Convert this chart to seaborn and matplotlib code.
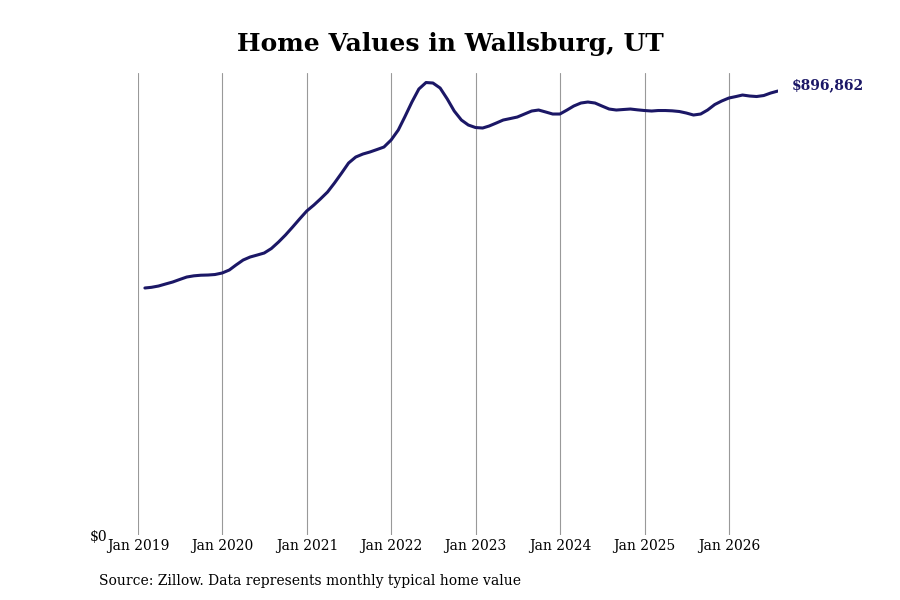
import pandas as pd
import seaborn as sns
import matplotlib
matplotlib.use("Agg")
import matplotlib.pyplot as plt
import matplotlib.dates as mdates
from matplotlib.ticker import FixedLocator, FuncFormatter

sns.set_style("white")
plt.rcParams["font.family"] = ["DejaVu Serif"]
plt.rcParams["text.color"] = "black"

# Monthly typical home value (month-end dates)
dates = pd.date_range("2019-01-31", periods=91, freq="ME")
values = [
    499000, 500350, 502980, 507020, 511060, 516110, 521160, 523580, 524800, 525200,
    526210, 529240, 535300, 545400, 555500, 561560, 565600, 569640, 578730, 591860,
    606000, 622160, 638320, 654480, 666600, 678720, 692860, 711040, 731240, 751440,
    763560, 769620, 773660, 778710, 783760, 797900, 818100, 844360, 874660, 900920,
    914050, 913040, 902940, 880720, 856480, 838300, 828200, 823150, 822140, 826180,
    832240, 838300, 841330, 844360, 850420, 856480, 858500, 854460, 850420, 850420,
    858500, 866580, 872640, 874660, 872640, 866580, 860520, 858500, 859510, 860520,
    858900, 857490, 856480, 857490, 857490, 856880, 855470, 852440, 848400, 850420,
    858500, 869610, 876680, 882740, 885770, 888800, 886780, 885770, 887790, 892840,
    896862,
]
tick_years = list(range(2019, 2027))

df = pd.DataFrame({"date": dates, "value": values})

fig = plt.figure(figsize=(9, 6), dpi=100)
ax = fig.add_axes([0.1533, 0.1083, 0.711, 0.77])

line_color = "#1b1766"
sns.lineplot(data=df, x="date", y="value", ax=ax, color=line_color, linewidth=2.2)

ax.set_xlim(pd.Timestamp("2019-01-01"), df["date"].iloc[-1])
ax.set_ylim(0, max(values) * 1.021)

ax.xaxis.set_major_locator(FixedLocator([mdates.date2num(pd.Timestamp(f"{y}-01-01")) for y in tick_years]))
ax.xaxis.set_major_formatter(mdates.DateFormatter("Jan %Y"))
ax.yaxis.set_major_locator(FixedLocator([0]))
ax.yaxis.set_major_formatter(FuncFormatter(lambda v, p: "$0"))

ax.grid(axis="x", color="#999999", linewidth=0.8)
ax.grid(axis="y", visible=False)
for s in ax.spines.values():
    s.set_visible(False)
ax.tick_params(axis="both", length=0, labelsize=10, colors="black")
ax.tick_params(axis="x", pad=3)
ax.tick_params(axis="y", pad=22)
ax.set_xlabel("")
ax.set_ylabel("")

last = values[-1]
ax.annotate(f"${last:,.0f}", xy=(df["date"].iloc[-1], last), xytext=(10, 4.5),
            textcoords="offset points", fontsize=10, fontweight="bold",
            color=line_color, va="center", ha="left", annotation_clip=False)

fig.text(0.5, 0.927, "Home Values in Wallsburg, UT", ha="center", va="center",
         fontsize=18, fontweight="bold", color="black")
fig.text(0.11, 0.031, "Source: Zillow. Data represents monthly typical home value",
         ha="left", va="center", fontsize=10, color="black")

fig.savefig("out.png", dpi=100)
